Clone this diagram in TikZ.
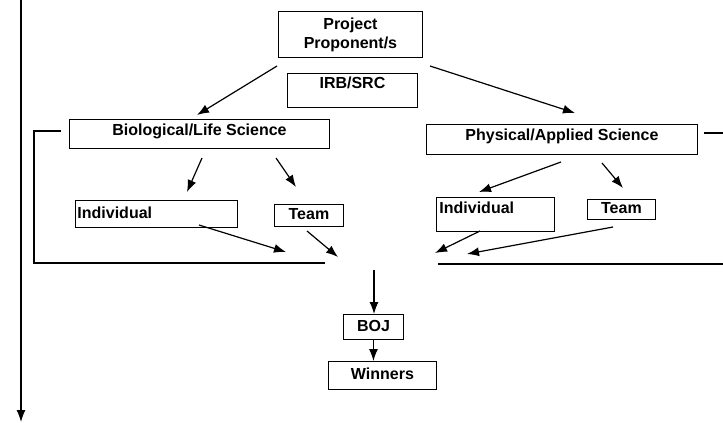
\documentclass[tikz,border=0pt]{standalone}
\usepackage{fontspec}
\setmainfont{Liberation Sans}
\usetikzlibrary{arrows.meta}

\begin{document}
\begin{tikzpicture}[x=1pt, y=-1pt, font=\fontsize{16}{19}\selectfont\bfseries,
  frame/.style={draw, line width=0.9pt, anchor=north west, inner sep=3pt},
  box/.style={frame, text height=11.5pt, text depth=#1},
  box/.default=2.5pt,
  arr/.style={line width=1.2pt, -{Latex[length=12pt,width=9pt]}},
  wire/.style={line width=1.1pt}]
  \useasboundingbox (0,0) rectangle (723,423);

  % Proponent and review
  \node[frame, minimum width=144pt, minimum height=46pt, align=center] (proponent) at (278,11) {Project\\Proponent/s};
  \node[box=14.5pt, minimum width=130pt, minimum height=34pt] (irb) at (287,73) {IRB/SRC};

  % Categories
  \node[box=7.5pt, minimum width=260pt, minimum height=29pt] (biolife) at (69,119) {Biological/Life Science};
  \node[box=8.5pt, minimum width=271pt, minimum height=30pt] (physapp) at (426,124) {Physical/Applied Science};

  % Entries
  \node[box, inner xsep=2pt, text width=158pt, align=left, minimum height=27pt] (indivL) at (75,200) {Individual};
  \node[box, minimum width=69pt, minimum height=22pt] (teamL) at (274,204) {Team};
  \node[box=12.5pt, inner xsep=3pt, text width=112pt, align=left, minimum height=34pt] (indivR) at (436,197) {Individual};
  \node[box, minimum width=68pt, minimum height=20pt] (teamR) at (587,199) {Team};

  % Judging
  \node[box, minimum width=60pt, minimum height=25pt] (boj) at (343,314) {BOJ};
  \node[box, minimum width=108pt, minimum height=28pt] (winners) at (328,361) {Winners};

   % Coordinates for the free arrow ends
   %
   % s -> start
   % t -> tip
   \path
   (277,66) coordinate(propLs)  (197,115) coordinate(propLt)
   (430,66) coordinate(propRs)  (575,113) coordinate(propRt)
   (202,158) coordinate(bioIs)  (187,192) coordinate(bioIt)
   (276,158) coordinate(bioTs)  (296,187) coordinate(bioTt)
   (199,225) coordinate(indLs)  (286,252) coordinate(indLt)
   (307,231) coordinate(teamLs) (338,257) coordinate(teamLt)
   (561,162) coordinate(phyIs)  (479,192) coordinate(phyIt)
   (602,163) coordinate(phyTs)  (623,188) coordinate(phyTt)
   (480,231) coordinate(indRs)  (435,253) coordinate(indRt)
   (613,227) coordinate(teamRs) (467,254) coordinate(teamRt)
   (374,270) coordinate(pool)
   (21,0) coordinate(mainTop)   (21,422) coordinate(mainEnd)
   (61,131) coordinate(brLa)    (34,131) coordinate(brLb)
   (34,263) coordinate(brLc)    (325,263) coordinate(brLd)
   (704,133) coordinate(brRa)   (723,133) coordinate(brRb)
   (438,264) coordinate(brRc)   (723,264) coordinate(brRd);

   % Arrows
   \draw[arr] (propLs) -- (propLt);
   \draw[arr] (propRs) -- (propRt);
   \draw[arr] (bioIs) -- (bioIt);
   \draw[arr] (bioTs) -- (bioTt);
   \draw[arr] (indLs) -- (indLt);
   \draw[arr] (teamLs) -- (teamLt);
   \draw[arr] (phyIs) -- (phyIt);
   \draw[arr] (phyTs) -- (phyTt);
   \draw[arr] (indRs) -- (indRt);
   \draw[arr] (teamRs) -- (teamRt);
   \draw[arr] (pool) -- (pool |- boj.north);
   \draw[arr] (boj.south) -- (boj.south |- winners.north);
   \draw[arr] (mainTop) -- (mainEnd);

   % Brackets
   \draw[wire] (brLa) -- (brLb) -- (brLc) -- (brLd);
   \draw[wire] (brRa) -- (brRb);
   \draw[wire] (brRc) -- (brRd);
\end{tikzpicture}
\end{document}
